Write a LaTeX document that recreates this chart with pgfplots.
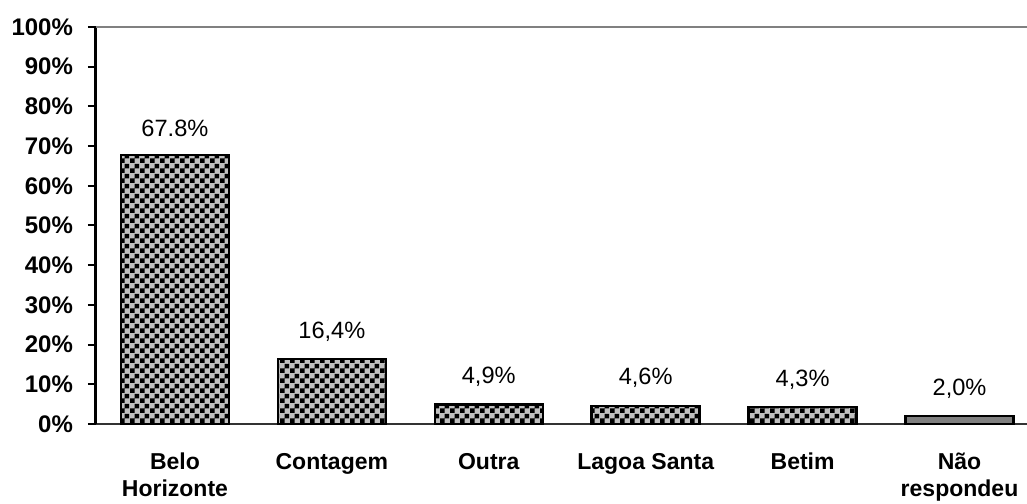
\documentclass[border=0pt]{standalone}
\usepackage{pgfplots}
\pgfplotsset{compat=1.18}
\usepackage{fontspec}
\setmainfont{Liberation Sans}
\usetikzlibrary{patterns,calc}
\definecolor{BarGray}{HTML}{C0C0C0}
\definecolor{SolidGray}{HTML}{808080}
\definecolor{FrameGray}{HTML}{808080}

% fine checker like the reference fill
\pgfdeclarepatternformonly{finecheck}{\pgfqpoint{0pt}{0pt}}{\pgfqpoint{5pt}{5pt}}{\pgfqpoint{5pt}{5pt}}{%
  \pgfpathrectangle{\pgfqpoint{0pt}{0pt}}{\pgfqpoint{2.5pt}{2.5pt}}%
  \pgfpathrectangle{\pgfqpoint{2.5pt}{2.5pt}}{\pgfqpoint{2.5pt}{2.5pt}}%
  \pgfusepath{fill}%
}

\begin{document}
\begin{tikzpicture}
\begin{axis}[
    name=ax,
    scale only axis,
    width=465.5pt,
    height=198.5pt,
    xmin=-0.503, xmax=5.43,
    ymin=0, ymax=100,
    axis x line*=bottom,
    axis y line*=left,
    x axis line style={black!80, line width=1pt, -},
    y axis line style={black, line width=1.5pt, -},
    /pgf/number format/assume math mode=true,
    ytick={0,10,...,100},
    yticklabel={\pgfmathprintnumber{\tick}\%},
    y tick label style={font=\fontsize{12}{14}\selectfont\bfseries, xshift=-4pt},
    ytick style={black, line width=1pt},
    xtick={0,1,2,3,4,5},
    xticklabels={{Belo\\Horizonte},Contagem,Outra,{Lagoa Santa},Betim,{Não\\respondeu}},
    x tick label style={font=\fontsize{11.5}{13.5}\selectfont\bfseries, align=center, yshift=-7pt, anchor=north},
    major x tick style={draw=none},
    extra x ticks={-0.5,0.5,1.5,2.5,3.5,4.5},
    extra x tick labels={},
    extra x tick style={tick style={black, line width=1pt}},
    tick align=outside,
    major tick length=4pt,
    ybar,
    bar width=54pt,
    bar shift=0pt,
    nodes near coords,
    point meta=explicit symbolic,
    every node near coord/.append style={font=\fontsize{11.8}{13}\selectfont, yshift=5pt},
    clip=false,
]
\addplot[draw=black, line width=1.2pt, fill=BarGray,
    postaction={pattern=finecheck, pattern color=black}]
    coordinates {(0,67.8)[67.8\%] (1,16.4)[16,4\%] (2,4.9)[4,9\%] (3,4.6)[4,6\%] (4,4.3)[4,3\%]};
\addplot[draw=black, line width=1.2pt, fill=SolidGray]
    coordinates {(5,2.0)[2,0\%]};
\draw[FrameGray, line width=1pt] (rel axis cs:0,1) -- (rel axis cs:1,1);
\end{axis}
\pgfresetboundingbox
\path ($(ax.south west)+(-48pt,-39.5pt)$) rectangle ($(ax.south west)+(465.5pt,212pt)$);
\end{tikzpicture}
\end{document}
